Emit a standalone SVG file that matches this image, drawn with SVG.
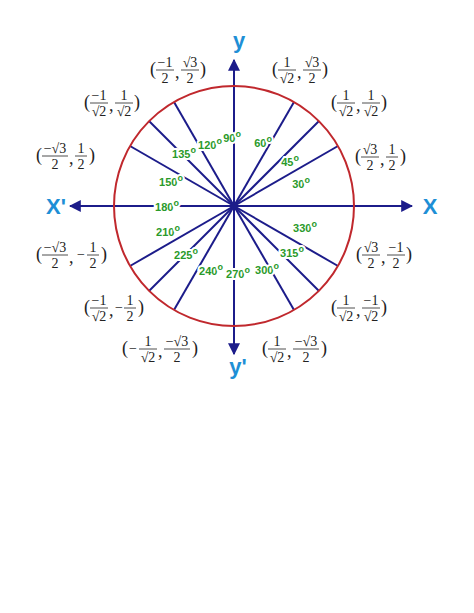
<svg xmlns="http://www.w3.org/2000/svg" width="474" height="613" viewBox="0 0 474 613">
<style>
.r{stroke:#1c1c8a;stroke-width:2}
.ax{stroke:#1c1c8a;stroke-width:2;marker-end:url(#ar)}
.d{font-family:"Liberation Sans",Arial,sans-serif;font-weight:bold;font-size:11px;fill:#2a9a2a;stroke:#fff;stroke-width:4;paint-order:stroke;text-anchor:middle}
.al{font-family:"Liberation Sans",Arial,sans-serif;font-weight:bold;font-size:22px;fill:#1e8fd6;text-anchor:middle}
.m{font-family:"Liberation Serif","Times New Roman",serif;font-size:14px;fill:#222;text-anchor:middle}
.p{font-family:"Liberation Serif","Times New Roman",serif;font-size:18px;fill:#222}
.b{stroke:#222;stroke-width:0.8}
</style>
<defs>
<marker id="ar" viewBox="0 0 10 10" refX="9" refY="5" markerWidth="6" markerHeight="6" orient="auto"><path d="M0,0L10,5L0,10z" fill="#1c1c8a"/></marker>
</defs>
<rect width="474" height="613" fill="#fff"/>
<g id="connectors">
<line class="ax" x1="234" y1="206" x2="412" y2="206"/>
<line class="ax" x1="234" y1="206" x2="70" y2="206"/>
<line class="ax" x1="234" y1="206" x2="234" y2="60"/>
<line class="ax" x1="234" y1="206" x2="234" y2="354"/>
<g class="r">
<line x1="234" y1="206" x2="338" y2="146"/><line x1="234" y1="206" x2="319" y2="121"/><line x1="234" y1="206" x2="294" y2="102"/>
<line x1="234" y1="206" x2="174" y2="102"/><line x1="234" y1="206" x2="149" y2="121"/><line x1="234" y1="206" x2="130" y2="146"/>
<line x1="234" y1="206" x2="130" y2="266"/><line x1="234" y1="206" x2="149" y2="291"/><line x1="234" y1="206" x2="174" y2="310"/>
<line x1="234" y1="206" x2="294" y2="310"/><line x1="234" y1="206" x2="319" y2="291"/><line x1="234" y1="206" x2="338" y2="266"/>
</g>
<circle cx="234" cy="206" r="3.5" fill="#1c1c8a"/>
</g>
<circle id="circle" cx="234" cy="206" r="120" fill="none" stroke="#c0282d" stroke-width="2"/>
<g id="degrees">
<text class="d" x="232" y="142">90<tspan dy="-5" font-size="9">o</tspan></text>
<text class="d" x="263" y="147">60<tspan dy="-5" font-size="9">o</tspan></text>
<text class="d" x="210" y="149">120<tspan dy="-5" font-size="9">o</tspan></text>
<text class="d" x="184" y="158">135<tspan dy="-5" font-size="9">o</tspan></text>
<text class="d" x="290" y="166">45<tspan dy="-5" font-size="9">o</tspan></text>
<text class="d" x="171" y="186">150<tspan dy="-5" font-size="9">o</tspan></text>
<text class="d" x="301" y="188">30<tspan dy="-5" font-size="9">o</tspan></text>
<text class="d" x="167" y="211">180<tspan dy="-5" font-size="9">o</tspan></text>
<text class="d" x="168" y="236">210<tspan dy="-5" font-size="9">o</tspan></text>
<text class="d" x="186" y="259">225<tspan dy="-5" font-size="9">o</tspan></text>
<text class="d" x="211" y="275">240<tspan dy="-5" font-size="9">o</tspan></text>
<text class="d" x="238" y="278">270<tspan dy="-5" font-size="9">o</tspan></text>
<text class="d" x="267" y="274">300<tspan dy="-5" font-size="9">o</tspan></text>
<text class="d" x="292" y="257">315<tspan dy="-5" font-size="9">o</tspan></text>
<text class="d" x="305" y="232">330<tspan dy="-5" font-size="9">o</tspan></text>
</g>
<g id="axis-labels">
<text class="al" x="239" y="48">y</text>
<text class="al" x="56" y="214">X'</text>
<text class="al" x="430" y="214">X</text>
<text class="al" x="238" y="374">y'</text>
</g>
<g id="coords">
<g transform="translate(150,70)"><text class="p" y="5">(</text><text class="m" x="15" y="-3">−1</text><line class="b" x1="6" x2="24" y1="0" y2="0"/><text class="m" x="15" y="13">2</text><text class="p" x="25" y="8">,</text><text class="m" x="40" y="-3">√3</text><line class="b" x1="31" x2="49" y1="0" y2="0"/><text class="m" x="40" y="13">2</text><text class="p" x="50" y="5">)</text></g>
<g transform="translate(272,70)"><text class="p" y="5">(</text><text class="m" x="15" y="-3">1</text><line class="b" x1="6" x2="24" y1="0" y2="0"/><text class="m" x="15" y="13">√2</text><text class="p" x="25" y="8">,</text><text class="m" x="40" y="-3">√3</text><line class="b" x1="31" x2="49" y1="0" y2="0"/><text class="m" x="40" y="13">2</text><text class="p" x="50" y="5">)</text></g>
<g transform="translate(84,103)"><text class="p" y="5">(</text><text class="m" x="15" y="-3">−1</text><line class="b" x1="6" x2="24" y1="0" y2="0"/><text class="m" x="15" y="13">√2</text><text class="p" x="25" y="8">,</text><text class="m" x="40" y="-3">1</text><line class="b" x1="31" x2="49" y1="0" y2="0"/><text class="m" x="40" y="13">√2</text><text class="p" x="50" y="5">)</text></g>
<g transform="translate(331,103)"><text class="p" y="5">(</text><text class="m" x="15" y="-3">1</text><line class="b" x1="6" x2="24" y1="0" y2="0"/><text class="m" x="15" y="13">√2</text><text class="p" x="25" y="8">,</text><text class="m" x="40" y="-3">1</text><line class="b" x1="31" x2="49" y1="0" y2="0"/><text class="m" x="40" y="13">√2</text><text class="p" x="50" y="5">)</text></g>
<g transform="translate(36,156)"><text class="p" y="5">(</text><text class="m" x="19" y="-3">−√3</text><line class="b" x1="6" x2="32" y1="0" y2="0"/><text class="m" x="19" y="13">2</text><text class="p" x="33" y="8">,</text><text class="m" x="45" y="-3">1</text><line class="b" x1="39" x2="51" y1="0" y2="0"/><text class="m" x="45" y="13">2</text><text class="p" x="53" y="5">)</text></g>
<g transform="translate(355,157)"><text class="p" y="5">(</text><text class="m" x="15" y="-3">√3</text><line class="b" x1="6" x2="24" y1="0" y2="0"/><text class="m" x="15" y="13">2</text><text class="p" x="25" y="8">,</text><text class="m" x="37" y="-3">1</text><line class="b" x1="31" x2="43" y1="0" y2="0"/><text class="m" x="37" y="13">2</text><text class="p" x="45" y="5">)</text></g>
<g transform="translate(36,255)"><text class="p" y="5">(</text><text class="m" x="19" y="-3">−√3</text><line class="b" x1="6" x2="32" y1="0" y2="0"/><text class="m" x="19" y="13">2</text><text class="p" x="33" y="8">,</text><text class="m" x="45" y="4">−</text><text class="m" x="57" y="-3">1</text><line class="b" x1="51" x2="63" y1="0" y2="0"/><text class="m" x="57" y="13">2</text><text class="p" x="65" y="5">)</text></g>
<g transform="translate(356,255)"><text class="p" y="5">(</text><text class="m" x="15" y="-3">√3</text><line class="b" x1="6" x2="24" y1="0" y2="0"/><text class="m" x="15" y="13">2</text><text class="p" x="25" y="8">,</text><text class="m" x="40" y="-3">−1</text><line class="b" x1="31" x2="49" y1="0" y2="0"/><text class="m" x="40" y="13">2</text><text class="p" x="50" y="5">)</text></g>
<g transform="translate(84,308)"><text class="p" y="5">(</text><text class="m" x="15" y="-3">−1</text><line class="b" x1="6" x2="24" y1="0" y2="0"/><text class="m" x="15" y="13">√2</text><text class="p" x="25" y="8">,</text><text class="m" x="35" y="4">−</text><text class="m" x="46" y="-3">1</text><line class="b" x1="40" x2="52" y1="0" y2="0"/><text class="m" x="46" y="13">2</text><text class="p" x="54" y="5">)</text></g>
<g transform="translate(331,308)"><text class="p" y="5">(</text><text class="m" x="15" y="-3">1</text><line class="b" x1="6" x2="24" y1="0" y2="0"/><text class="m" x="15" y="13">√2</text><text class="p" x="25" y="8">,</text><text class="m" x="40" y="-3">−1</text><line class="b" x1="31" x2="49" y1="0" y2="0"/><text class="m" x="40" y="13">√2</text><text class="p" x="50" y="5">)</text></g>
<g transform="translate(122,349)"><text class="p" y="5">(</text><text class="m" x="11" y="4">−</text><text class="m" x="26" y="-3">1</text><line class="b" x1="17" x2="35" y1="0" y2="0"/><text class="m" x="26" y="13">√2</text><text class="p" x="36" y="8">,</text><text class="m" x="55" y="-3">−√3</text><line class="b" x1="42" x2="68" y1="0" y2="0"/><text class="m" x="55" y="13">2</text><text class="p" x="70" y="5">)</text></g>
<g transform="translate(262,349)"><text class="p" y="5">(</text><text class="m" x="15" y="-3">1</text><line class="b" x1="6" x2="24" y1="0" y2="0"/><text class="m" x="15" y="13">√2</text><text class="p" x="25" y="8">,</text><text class="m" x="44" y="-3">−√3</text><line class="b" x1="31" x2="57" y1="0" y2="0"/><text class="m" x="44" y="13">2</text><text class="p" x="59" y="5">)</text></g>
</g>
</svg>
